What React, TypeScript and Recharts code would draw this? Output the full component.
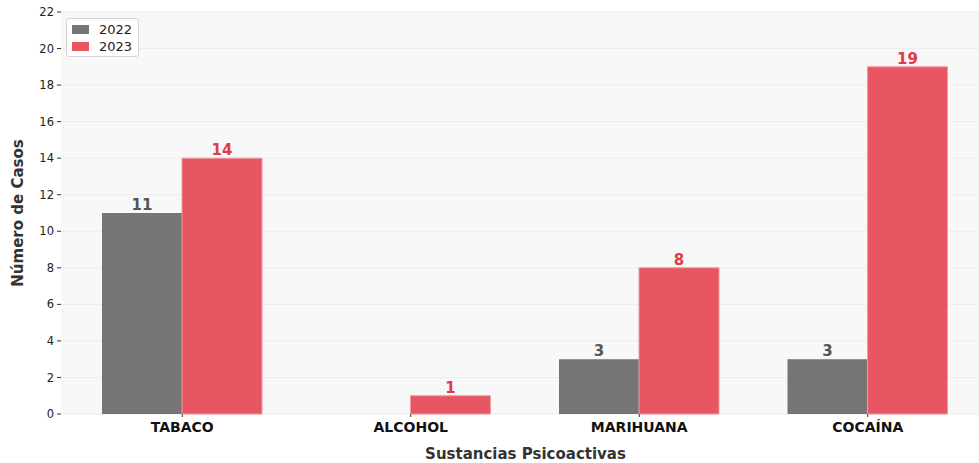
import React from "react";
import { BarChart, Bar, XAxis, YAxis, CartesianGrid, Legend, LabelList } from "recharts";

const categories = ["TABACO", "ALCOHOL", "MARIHUANA", "COCAÍNA"];
const casos2022 = [11, 0, 3, 3];
const casos2023 = [14, 1, 8, 19];
const yTicks = [0, 2, 4, 6, 8, 10, 12, 14, 16, 18, 20, 22];

const data = categories.map((c, i) => ({ name: c, y2022: casos2022[i], y2023: casos2023[i] }));

const FONT = "'DejaVu Sans', sans-serif";
const GRAY = "#757575";
const RED = "#e85661";

function hideZero(v: any) {
  return Number(v) === 0 ? "" : v;
}

function LegendBox() {
  const items = [
    { label: "2022", color: GRAY },
    { label: "2023", color: RED },
  ];
  return (
    <div
      style={{
        background: "#fff",
        border: "1px solid #d6d6d6",
        borderRadius: 3,
        padding: "2px 6px 1px 5px",
        fontFamily: FONT,
        fontSize: 13,
        color: "#222",
        width: 60,
      }}
    >
      {items.map((it) => (
        <div key={it.label} style={{ display: "flex", alignItems: "center", height: 17 }}>
          <span style={{ display: "inline-block", width: 22, height: 9, background: it.color, marginRight: 10 }} />
          <span>{it.label}</span>
        </div>
      ))}
    </div>
  );
}

export default function App() {
  return (
    <div style={{ position: "absolute", left: 0, top: 0, width: 979, height: 463, overflow: "hidden", background: "#fff" }}>
      <BarChart
        width={990}
        height={463}
        data={data}
        margin={{ top: 12, right: 0, bottom: 0, left: 0 }}
        barGap={0}
        style={{ fontFamily: FONT }}
      >
        <CartesianGrid vertical={false} stroke="#ececec" fill="#f8f8f8" />
        <XAxis
          dataKey="name"
          height={49}
          padding={{ left: 7, right: 8 }}
          axisLine={false}
          tickLine={{ stroke: "#333" }}
          tickSize={3}
          tickMargin={5}
          tick={{ fontSize: 14, fontWeight: "bold", fill: "#111", fontFamily: FONT }}
          label={{ value: "Sustancias Psicoactivas", position: "insideBottom", offset: 0, fontSize: 15, fontWeight: "bold", fill: "#333", fontFamily: FONT, dy: -4 }}
        />
        <YAxis
          width={61}
          domain={[0, 22]}
          ticks={yTicks}
          interval={0}
          axisLine={false}
          tickLine={{ stroke: "#333" }}
          tickSize={4}
          tickMargin={3}
          tick={{ fontSize: 11.5, fill: "#222", fontFamily: FONT }}
          label={{ value: "Número de Casos", angle: -90, position: "insideLeft", offset: 18, fontSize: 15, fontWeight: "bold", fill: "#333", fontFamily: FONT, style: { textAnchor: "middle" } }}
        />
        <Legend
          layout="vertical"
          align="center"
          verticalAlign="middle"
          content={() => <LegendBox />}
          wrapperStyle={{ left: 66, top: 18, width: "auto", height: "auto" }}
        />
        <Bar dataKey="y2022" name="2022" fill={GRAY} barSize={80} isAnimationActive={false}>
          <LabelList dataKey="y2022" position="top" offset={3} formatter={hideZero} style={{ fontSize: 15, fontWeight: "bold", fill: "#555", fontFamily: FONT }} />
        </Bar>
        <Bar dataKey="y2023" name="2023" fill={RED} stroke="#f19aa0" strokeWidth={1} barSize={80} isAnimationActive={false}>
          <LabelList dataKey="y2023" position="top" offset={3} formatter={hideZero} style={{ fontSize: 15, fontWeight: "bold", fill: "#e63946", fontFamily: FONT }} />
        </Bar>
      </BarChart>
    </div>
  );
}
